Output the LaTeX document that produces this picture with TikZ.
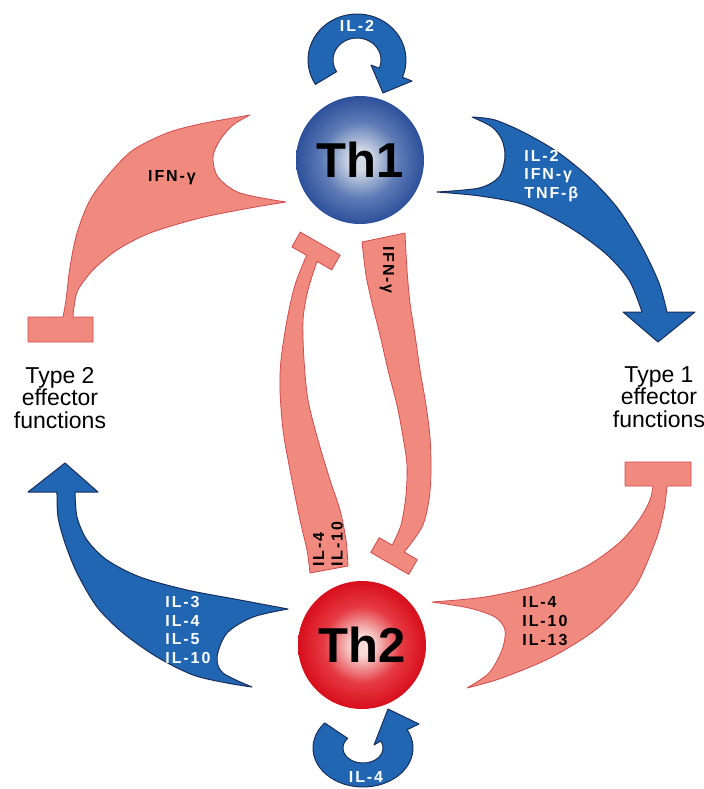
\documentclass[tikz,border=0pt]{standalone}
\usepackage{fontspec}
\setmainfont{Liberation Sans}
\newfontfamily\cytofont[LetterSpace=12]{Liberation Sans}
\usepackage{tikz}

\definecolor{thBlue}{HTML}{2066B2}
\definecolor{thBlueEdge}{HTML}{1A2E5C}
\definecolor{thSalmon}{HTML}{F08A7E}
\definecolor{thSalmonEdge}{HTML}{D04A4E}
\definecolor{thOneIn}{HTML}{D3DAE7}
\definecolor{thOneMid}{HTML}{5E7BB6}
\definecolor{thOneOut}{HTML}{2D509A}
\definecolor{thTwoIn}{HTML}{F8DAD6}
\definecolor{thTwoMid}{HTML}{E63A43}
\definecolor{thTwoOut}{HTML}{D80E1C}

\pgfdeclareradialshading{thoneball}{\pgfpoint{0bp}{0bp}}{color(0bp)=(thOneIn); color(4bp)=(thOneIn); color(15bp)=(thOneMid); color(25bp)=(thOneOut); color(50bp)=(thOneOut)}
\pgfdeclareradialshading{thtwoball}{\pgfpoint{0bp}{0bp}}{color(0bp)=(thTwoIn); color(4bp)=(thTwoIn); color(15bp)=(thTwoMid); color(25bp)=(thTwoOut); color(50bp)=(thTwoOut)}

\begin{document}
\begin{tikzpicture}[
  x=0.5pt, y=-0.5pt,
  cell/.style={circle, minimum size=64pt, inner sep=0pt, font=\bfseries\fontsize{24.5}{26}\selectfont},
  cyto/.style={font=\cytofont\bfseries\fontsize{8}{9.3}\selectfont, align=left, inner sep=0pt},
  cytow/.style={cyto, text=white},
  effect/.style={font=\fontsize{11.5}{11.3}\selectfont, align=center, inner sep=0pt},
  bluearr/.style={fill=thBlue, draw=thBlueEdge, line width=0.5pt, line join=round},
  redarr/.style={fill=thSalmon, draw=thSalmonEdge, line width=0.4pt, line join=round},
]
  \useasboundingbox (0,0) rectangle (704,789);

  % autocrine loops
  \filldraw[bluearr] plot[domain=212:-22, samples=40, variable=\t] ({357+49*cos(\t)}, {60-46*sin(\t)})
    -- (412,81) -- (383,93) -- (371,65)
    -- plot[domain=-22:212, samples=40, variable=\t] ({357+24*cos(\t)}, {60-22*sin(\t)}) -- cycle;
  \filldraw[bluearr] plot[domain=140:388, samples=40, variable=\t] ({363+50*cos(\t)}, {748-39*sin(\t)})
    -- (419,724) -- (388,709) -- (374,745)
    -- plot[domain=388:140, samples=40, variable=\t] ({363+20*cos(\t)}, {748-15*sin(\t)}) -- cycle;

  % Th1 -| type 2
  \filldraw[redarr] (28,342) -- (28,317) -- (63,317)
    -- plot[smooth] coordinates {(63,317) (66,300) (70,267) (77,233) (90,200) (110,173) (133,150) (167,133) (200,124) (250,115)}
    -- plot[smooth] coordinates {(250,115) (233,125) (220,140) (213,157) (218,177) (240,193) (286,202)}
    -- plot[smooth] coordinates {(286,202) (250,208) (200,218) (150,233) (117,250) (93,270) (78,290) (74,307) (73,317)}
    -- (93,317) -- (93,342) -- cycle;

  % Th1 -> type 1
  \filldraw[bluearr] (472,117)
    -- plot[smooth] coordinates {(472,117) (495,120) (525,133) (559,153) (592,180) (619,210) (642,247) (659,283) (667,312)}
    -- (695,312) -- (658,342) -- (623,312) -- (642,312)
    -- plot[smooth] coordinates {(642,312) (629,280) (605,253) (569,227) (525,205) (480,196) (437,192)}
    -- plot[smooth] coordinates {(437,192) (479,188) (499,177) (505,157) (502,140) (492,127) (472,117)}
    -- cycle;

  % Th2 -> type 2
  \filldraw[bluearr] (65,463) -- (98,492) -- (75,492)
    -- plot[smooth] coordinates {(75,492) (77,517) (87,540) (107,560) (140,577) (187,590) (240,600) (288,609)}
    -- plot[smooth] coordinates {(288,609) (253,617) (227,633) (217,657) (223,673) (252,687)}
    -- plot[smooth] coordinates {(252,687) (227,683) (193,675) (157,657) (123,633) (97,607) (77,573) (65,543) (58,517) (57,492)}
    -- (28,492) -- cycle;

  % Th2 -| type 1
  \filldraw[redarr] (625,462) -- (691,462) -- (691,486) -- (667,486)
    -- plot[smooth] coordinates {(667,486) (664,510) (656,540) (635,587) (599,627) (552,657) (502,678) (467,688)}
    -- plot[smooth] coordinates {(467,688) (489,673) (502,650) (505,630) (495,617) (469,608) (432,602)}
    -- plot[smooth] coordinates {(432,602) (485,597) (539,585) (585,567) (619,543) (639,520) (650,500) (653,486)}
    -- (625,486) -- cycle;

  % cross inhibition
  \filldraw[redarr] (306.6,255.4) -- (291.9,246.9) -- (300.3,232.1) -- (340.2,255.1) -- (331.7,269.9) -- (317,261.4)
    -- plot[smooth] coordinates {(317,261.4) (308,290) (303,320) (304,360) (308,400) (318,440) (330,480) (340,510) (346,540) (348,566)}
    -- (310,573)
    -- plot[smooth] coordinates {(310,573) (307,550) (300,520) (290,470) (283,430) (280,390) (281,360) (287,320) (295,285) (306.6,255.4)}
    -- cycle;
  \filldraw[redarr] (362,242) -- (405,233)
    -- plot[smooth] coordinates {(405,233) (407,270) (410,303) (415,335) (420,370) (426,405) (430,437) (431,470) (429,500) (422,527) (404.3,552.1)}
    -- (417.3,559.6) -- (408.8,574.4) -- (370.7,552.4) -- (379.2,537.6) -- (392.2,545.1)
    -- plot[smooth] coordinates {(392.2,545.1) (401,525) (406,495) (407,465) (403,437) (397,405) (388,370) (380,335) (372,303) (366,275) (362,242)}
    -- cycle;

  \node[cell, shading=thoneball] (th1) at (360,160) {Th1};
  \node[cell, shading=thtwoball] (th2) at (362,645) {Th2};

  \node[cytow] (il2loop) at (357,26) {IL-2};
  \node[cytow] (il4loop) at (366,777) {IL-4};
  \node[cyto] (ifnleft) at (172,178) {IFN-γ};
  \node[cytow, anchor=west] (th1out) at (524,176) {IL-2\\IFN-γ\\TNF-β};
  \node[cytow, anchor=west] (th2out) at (165,630) {IL-3\\IL-4\\IL-5\\IL-10};
  \node[cyto, anchor=west] (th2red) at (522,621) {IL-4\\IL-10\\IL-13};
  \node[cyto, rotate=-90] (ifnmid) at (387,270) {IFN-γ};
  \node[cyto, rotate=90, anchor=west] (ilmid) at (328,567) {IL-4\\IL-10};

  \node[effect] (type2) at (60,398) {Type 2\\effector\\functions};
  \node[effect] (type1) at (659,397) {Type 1\\effector\\functions};
\end{tikzpicture}
\end{document}
